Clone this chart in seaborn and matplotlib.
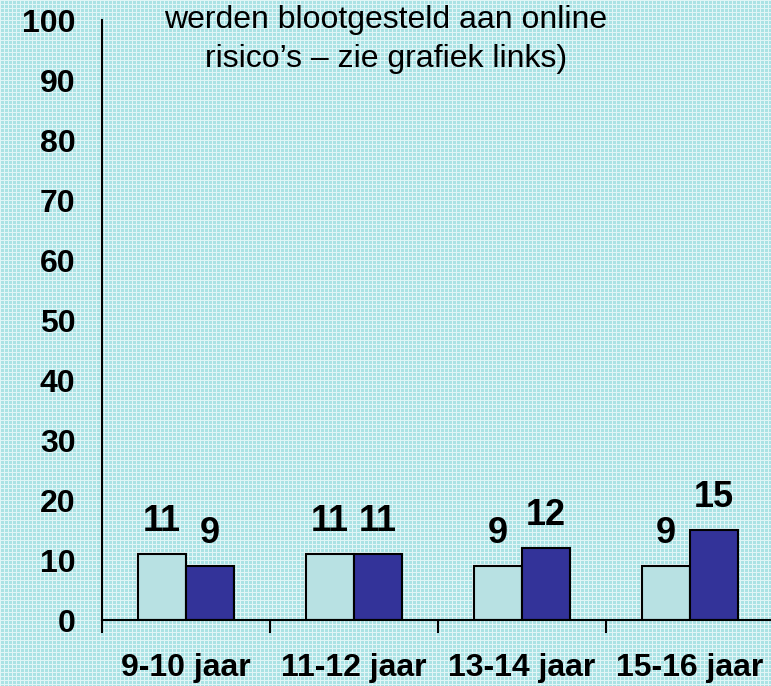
import numpy as np
import pandas as pd
import matplotlib
matplotlib.use('Agg')
import matplotlib.pyplot as plt
import seaborn as sns

# data
age_groups = ['9-10 jaar', '11-12 jaar', '13-14 jaar', '15-16 jaar']
series_a = [11, 11, 9, 9]    # light bars
series_b = [9, 11, 12, 15]   # dark bars
y_ticks = [0, 10, 20, 30, 40, 50, 60, 70, 80, 90, 100]
title_lines = ['werden blootgesteld aan online', 'risico\u2019s \u2013 zie grafiek links)']

df = pd.DataFrame({
    'groep': age_groups * 2,
    'serie': ['a'] * len(age_groups) + ['b'] * len(age_groups),
    'waarde': series_a + series_b,
})

sns.set_theme(style='white')
plt.rcParams['font.family'] = ['Liberation Sans', 'DejaVu Sans']
plt.rcParams['text.color'] = 'black'

W, H = 771, 686
fig = plt.figure(figsize=(W / 100, H / 100), dpi=100)

# checkered light cyan background
yy, xx = np.mgrid[0:H, 0:W]
base = np.array([170, 226, 228]) / 255
light = np.array([225, 245, 246]) / 255
mask = ((xx % 4 == 0) | (yy % 4 == 0))
bg = np.where(mask[..., None], light, base)
fig.figimage(bg, xo=0, yo=0, zorder=-5)

ax = fig.add_axes([102 / W, 66 / H, 672 / W, 600 / H])
ax.set_facecolor('none')
ax.set_zorder(2)

sns.barplot(data=df, x='groep', y='waarde', hue='serie', order=age_groups,
            palette=['#b8e1e3', '#333399'], saturation=1, width=0.57, gap=0,
            edgecolor='black', linewidth=1.5, legend=False, ax=ax)

for cont in ax.containers:
    ax.bar_label(cont, padding=11, fontsize=26, fontweight='bold', color='black')

ax.set_xlim(-0.5, 3.5)
ax.set_ylim(0, 100)
ax.set_yticks(y_ticks)
ax.set_xlabel('')
ax.set_ylabel('')
ax.set_xticks(np.arange(-0.5, 3.6, 1), minor=True)
ax.tick_params(axis='x', which='major', bottom=False, length=0, pad=24, labelsize=23)
ax.tick_params(axis='x', which='minor', bottom=True, length=9, width=1.5,
               color='black', direction='out')
ax.tick_params(axis='y', length=0, pad=19, labelsize=23)
for lab in ax.get_xticklabels() + ax.get_yticklabels():
    lab.set_fontweight('bold')
    lab.set_color('black')

for side in ['top', 'right']:
    ax.spines[side].set_visible(False)
for side in ['left', 'bottom']:
    ax.spines[side].set_color('black')
    ax.spines[side].set_linewidth(1.5)

fig.text(386 / W, 1 - 28 / H, title_lines[0], ha='center', va='baseline', fontsize=23, color='black')
fig.text(386 / W, 1 - 67 / H, title_lines[1], ha='center', va='baseline', fontsize=23, color='black')

fig.savefig('out.png', dpi=100)
